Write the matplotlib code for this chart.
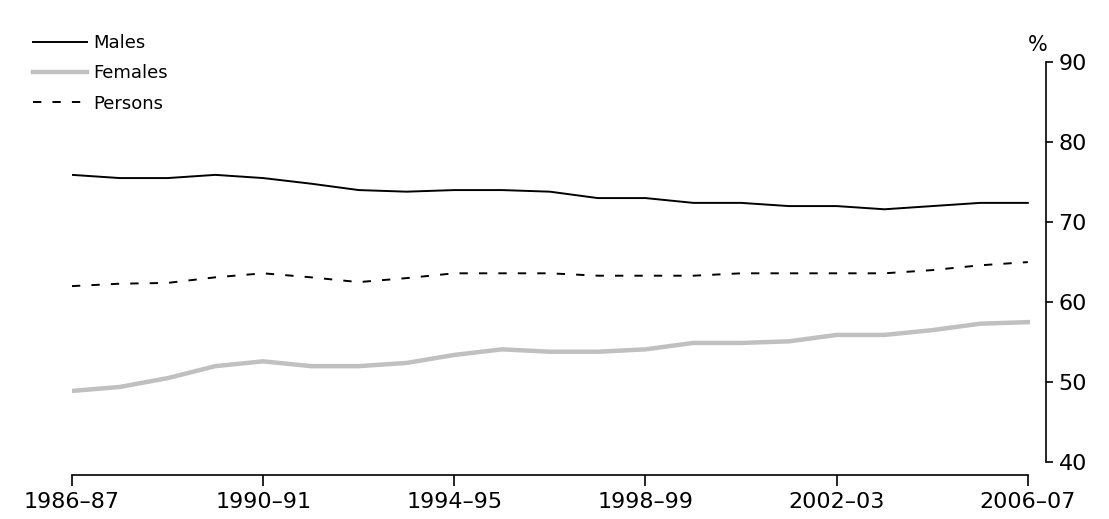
import matplotlib as mpl
mpl.use('Agg')
import matplotlib.pyplot as plt

years = ['1986-87', '1987-88', '1988-89', '1989-90', '1990-91', '1991-92', '1992-93',
         '1993-94', '1994-95', '1995-96', '1996-97', '1997-98', '1998-99', '1999-00',
         '2000-01', '2001-02', '2002-03', '2003-04', '2004-05', '2005-06', '2006-07']
males = [75.9, 75.5, 75.5, 75.9, 75.5, 74.8, 74.0, 73.8, 74.0, 74.0, 73.8,
         73.0, 73.0, 72.4, 72.4, 72.0, 72.0, 71.6, 72.0, 72.4, 72.4]
females = [48.9, 49.4, 50.5, 52.0, 52.6, 52.0, 52.0, 52.4, 53.4, 54.1, 53.8,
           53.8, 54.1, 54.9, 54.9, 55.1, 55.9, 55.9, 56.5, 57.3, 57.5]
persons = [62.0, 62.3, 62.4, 63.1, 63.6, 63.1, 62.5, 63.0, 63.6, 63.6, 63.6,
           63.3, 63.3, 63.3, 63.6, 63.6, 63.6, 63.6, 64.0, 64.6, 65.0]
tick_labels = ['1986\u201387', '1990\u201391', '1994\u201395', '1998\u201399', '2002\u201303', '2006\u201307']

plt.rcParams['lines.scale_dashes'] = False
fig = plt.figure(figsize=(11.09, 5.19), dpi=100)
ax = fig.add_axes([0.0649, 0.0848, 0.8783, 0.7957])

x = list(range(len(years)))
ax.plot(x, males, color='black', lw=1.4, label='Males')
ax.plot(x, females, color='#c0c0c0', lw=3.2, label='Females')
ax.plot(x, persons, color='black', lw=1.4, dashes=(6, 8), label='Persons')

ax.set_xlim(0, 20.38)
ax.set_ylim(38.4, 90)
ax.set_xticks(range(0, 21, 4))
ax.set_xticklabels(tick_labels)
ax.set_yticks(range(40, 91, 10))

ax.spines['top'].set_visible(False)
ax.spines['left'].set_visible(False)
ax.spines['bottom'].set_bounds(0, 20)
ax.spines['right'].set_bounds(40, 90)
ax.yaxis.tick_right()
ax.tick_params(axis='y', direction='out', length=5, width=1.2, labelsize=16, pad=4)
ax.tick_params(axis='x', direction='out', length=8, width=1.2, labelsize=16, pad=4)
for s in ['bottom', 'right']:
    ax.spines[s].set_linewidth(1.2)

fig.text(1038 / 1109, 1 - 45 / 519, '%', fontsize=15, ha='center', va='center')

# legend in top left corner
fig.legend(loc='upper left', bbox_to_anchor=(33 / 1109, 1 - 34 / 519), frameon=False,
           fontsize=13, handlelength=3.0, handletextpad=0.35, labelspacing=0.68,
           borderaxespad=0, borderpad=0)

plt.savefig('out.png', dpi=100)
